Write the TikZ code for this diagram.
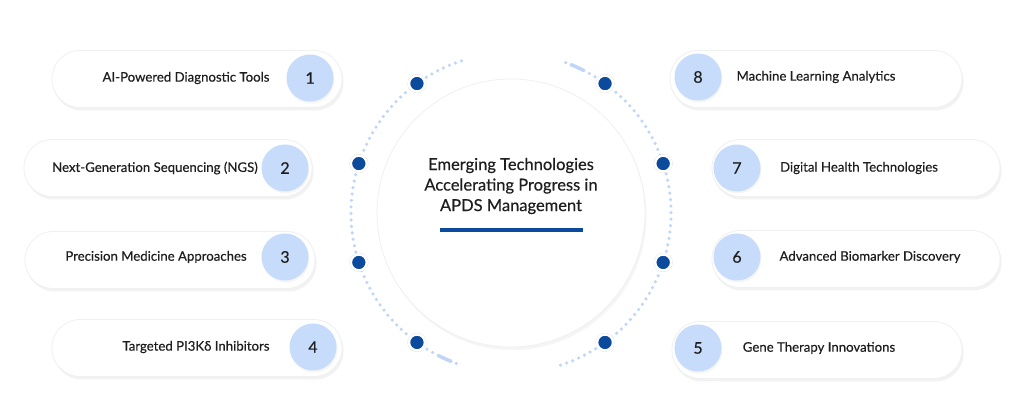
\documentclass[tikz,border=0pt]{standalone}
\usepackage{fontspec}
\setmainfont{Lato}
\newfontfamily\medfont{Lato}[FakeBold=0.35]
\usetikzlibrary{positioning,calc,shadows}
\definecolor{ringblue}{HTML}{BFD6F6}
\definecolor{numblue}{HTML}{C6DCFA}
\definecolor{navy}{HTML}{0B4A9C}
\definecolor{ink}{HTML}{1E1E1E}
\tikzset{
  every picture/.append style={line width=0.6pt},
}
\tikzset{
  pill/.style={draw=black!6, line width=0.8pt, fill=white, rounded corners=28pt, minimum height=57pt, inner sep=0pt,
    drop shadow={shadow xshift=1.5pt, shadow yshift=-3pt, opacity=0.10}},
  num/.style={circle, fill=numblue, minimum size=47pt, inner sep=0pt, text=ink,
    font=\medfont\fontsize{16}{18}\selectfont, drop shadow={shadow xshift=1pt, shadow yshift=-2pt, opacity=0.08}},
  lbl/.style={text=ink, inner sep=0pt, font=\medfont\fontsize{13.2}{15}\selectfont}
}

\begin{document}
\begin{tikzpicture}[
  x=1pt, y=1pt,
  hub/.style={circle, draw=black!6, line width=0.8pt, fill=white, minimum size=268pt, inner sep=0pt,
    drop shadow={shadow xshift=1.5pt, shadow yshift=-3pt, opacity=0.08}},
  pin/.style={circle, fill=navy, draw=white, line width=2.5pt, minimum size=16pt, inner sep=0pt,
    drop shadow={shadow xshift=0pt, shadow yshift=0pt, shadow scale=1.18, opacity=0.35}},
  ring/.style={ringblue, line width=3.5pt, line cap=round, dash pattern=on 0pt off 6.5pt},
  streak/.style={ringblue, line width=3.5pt, line cap=round},
  bar/.style={fill=navy, minimum width=143pt, minimum height=4.5pt, inner sep=0pt}
]
% Canvas
\fill[white] (0,0) rectangle (1024,406);
\useasboundingbox (0,0) rectangle (1024,406);

% Central hub
\node[hub] (hub) at (511,193) {};
\node[align=center, text=ink, font=\medfont\fontsize{16.5}{20.5}\selectfont] (head) at ($(hub.center)+(0,27)$)
  {Emerging Technologies\\Accelerating Progress in\\APDS Management};
\node[bar] (bar) at ($(hub.center)+(0,-17)$) {};

% Dotted orbit round the hub
\draw[ring] ($(hub.center)+(108:160)$) arc[start angle=108, end angle=252, radius=160];
\draw[ring] ($(hub.center)+(-72:160)$) arc[start angle=-72, end angle=72, radius=160];
\draw[streak] ($(hub.center)+(68:160)$) arc[start angle=68, end angle=63, radius=160];
\draw[streak] ($(hub.center)+(248:160)$) arc[start angle=248, end angle=243, radius=160];

% Pins on the orbit
\foreach \ang [count=\i] in {126,162,198,234,-54,-18,18,54}
  \node[pin] (pin\i) at ($(hub.center)+(\ang:160)$) {};

% Left items
\node[pill, minimum width=290pt] (p1) at (197,327) {};
\node[pill, minimum width=288pt] (p2) at (168,238) {};
\node[pill, minimum width=290pt] (p3) at (170,146) {};
\node[pill, minimum width=290pt] (p4) at (197,58) {};

\node[num] (n1) at (310,328) {1};
\node[num] (n2) at (285,238) {2};
\node[num] (n3) at (285,149) {3};
\node[num] (n4) at (313,59) {4};

\node[lbl] (t1) at (186,328) {AI-Powered Diagnostic Tools};
\node[lbl] (t2) at (155,238) {Next-Generation Sequencing (NGS)};
\node[lbl] (t3) at (156,149) {Precision Medicine Approaches};
\node[lbl] (t4) at (196,59) {Targeted PI3Kδ Inhibitors};

% Right items
\node[pill, minimum width=292pt] (p8) at (816,327) {};
\node[pill, minimum width=288pt] (p7) at (856,238) {};
\node[pill, minimum width=288pt] (p6) at (856,147) {};
\node[pill, minimum width=290pt] (p5) at (817,56) {};

\node[num] (n8) at (698,329) {8};
\node[num] (n7) at (737,238) {7};
\node[num] (n6) at (737,149) {6};
\node[num] (n5) at (698,58) {5};

\node[lbl] (t8) at (816,329) {Machine Learning Analytics};
\node[lbl] (t7) at (859,238) {Digital Health Technologies};
\node[lbl] (t6) at (870,149) {Advanced Biomarker Discovery};
\node[lbl] (t5) at (819,58) {Gene Therapy Innovations};

\end{tikzpicture}
\end{document}
